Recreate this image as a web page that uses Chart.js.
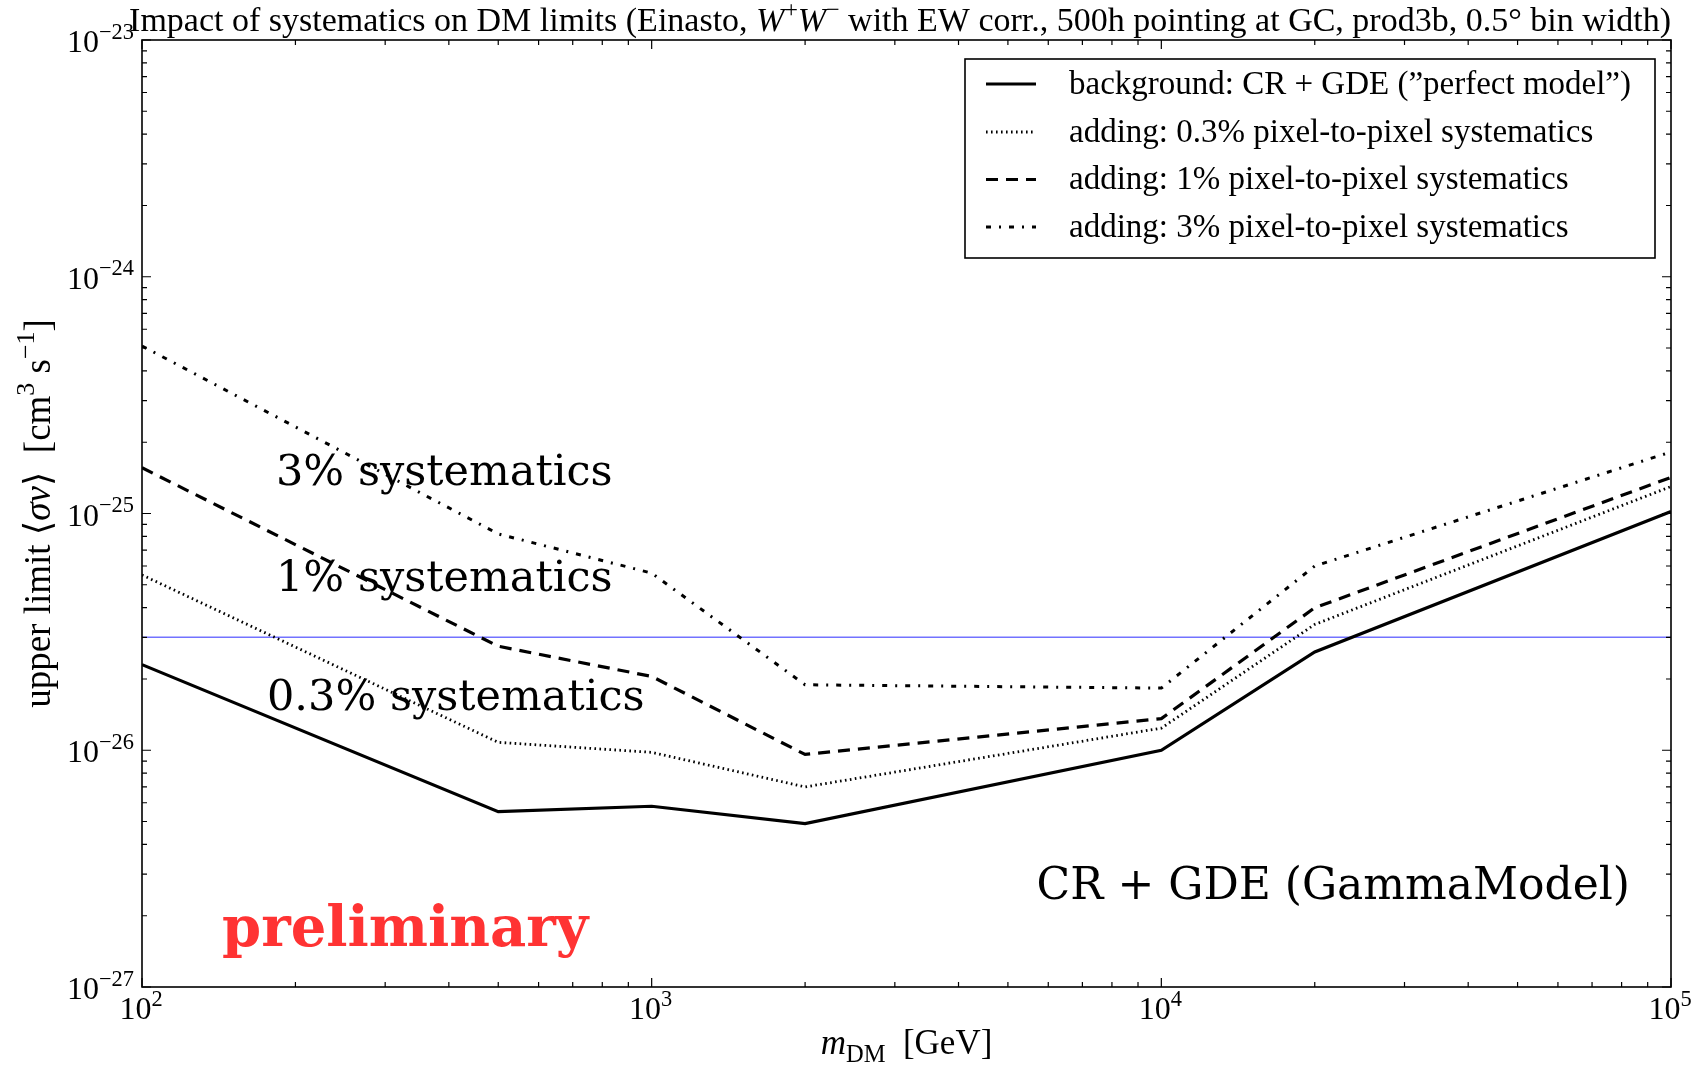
<!DOCTYPE html>
<html>
<head>
<meta charset="utf-8">
<script src="https://cdn.jsdelivr.net/npm/chart.js@4.4.1/dist/chart.umd.min.js"></script>
<style>
  html, body { margin: 0; padding: 0; background: #ffffff; }
  #wrap { width: 1696px; height: 1065px; position: relative; }
</style>
</head>
<body>
<div id="wrap"><canvas id="c" width="1696" height="1065"></canvas></div>
<script>
// Dark-matter mass grid (GeV)
const massGeV = [100, 500, 1000, 2000, 10000, 20000, 100000];

// Upper limits on <sigma v> (cm^3 s^-1)
const limitPerfectModel = [2.30e-26, 5.5e-27, 5.8e-27, 4.9e-27, 1.0e-26, 2.6e-26, 1.02e-25];
const limitSys03 = [5.5e-26, 1.08e-26, 9.8e-27, 7.0e-27, 1.24e-26, 3.4e-26, 1.30e-25];
const limitSys1 = [1.56e-25, 2.75e-26, 2.05e-26, 9.6e-27, 1.36e-26, 4.0e-26, 1.42e-25];
const limitSys3 = [5.1e-25, 8.2e-26, 5.6e-26, 1.89e-26, 1.83e-26, 6.0e-26, 1.82e-25];

// Thermal relic reference cross-section
const thermalRelic = 3e-26;

// Axis ranges and decade tick labels
const xRange = [100, 100000];
const yRange = [1e-27, 1e-23];
const xTickValues = [100, 1000, 10000, 100000];
const xTickExponents = ['2', '3', '4', '5'];
const yTickValues = [1e-27, 1e-26, 1e-25, 1e-24, 1e-23];
const yTickExponents = ['\u221227', '\u221226', '\u221225', '\u221224', '\u221223'];

const seriesLabels = [
  'background: CR + GDE (\u201dperfect model\u201d)',
  'adding: 0.3% pixel-to-pixel systematics',
  'adding: 1% pixel-to-pixel systematics',
  'adding: 3% pixel-to-pixel systematics'
];

const SERIF = '"Liberation Serif", "DejaVu Serif", serif';
const BIGSERIF = '"DejaVu Serif", "Liberation Serif", serif';

function toPoints(values) {
  return massGeV.map((m, i) => ({ x: m, y: values[i] }));
}

// Draw a list of text runs (italic / superscript / subscript pieces)
function runFont(r, size) {
  const s = (r.sup || r.sub) ? size * 0.7 : size;
  return (r.it ? 'italic ' : '') + s + 'px ' + SERIF;
}
function runsWidth(ctx, runs, size) {
  let w = 0;
  for (const r of runs) { ctx.font = runFont(r, size); w += ctx.measureText(r.t).width; }
  return w;
}
function drawRuns(ctx, runs, x, y, size, align) {
  const w = runsWidth(ctx, runs, size);
  let cx = align === 'center' ? x - w / 2 : align === 'right' ? x - w : x;
  ctx.textAlign = 'left';
  ctx.textBaseline = 'alphabetic';
  for (const r of runs) {
    ctx.font = runFont(r, size);
    const dy = r.sup ? -size * 0.42 : r.sub ? size * 0.22 : 0;
    ctx.fillText(r.t, cx, y + dy);
    cx += ctx.measureText(r.t).width;
  }
  return w;
}

const decorations = {
  id: 'decorations',
  afterDraw(chart) {
    const ctx = chart.ctx;
    const { left, right, top, bottom } = chart.chartArea;
    const xs = chart.scales.x, ys = chart.scales.y;
    ctx.save();
    ctx.fillStyle = '#000';
    ctx.strokeStyle = '#000';

    // frame
    ctx.lineWidth = 1.6;
    ctx.strokeRect(left, top, right - left, bottom - top);

    // ticks on all four sides, pointing inward
    ctx.lineWidth = 1.2;
    ctx.beginPath();
    for (let d = xRange[0]; d <= xRange[1]; d *= 10) {
      for (let k = 1; k <= 9; k++) {
        const v = d * k;
        if (v > xRange[1] * 1.0001) break;
        const px = xs.getPixelForValue(v);
        const len = k === 1 ? 9 : 5;
        ctx.moveTo(px, bottom); ctx.lineTo(px, bottom - len);
        ctx.moveTo(px, top); ctx.lineTo(px, top + len);
      }
    }
    for (let d = yRange[0]; d <= yRange[1] * 1.0001; d *= 10) {
      for (let k = 1; k <= 9; k++) {
        const v = d * k;
        if (v > yRange[1] * 1.0001) break;
        const py = ys.getPixelForValue(v);
        const len = k === 1 ? 9 : 5;
        ctx.moveTo(left, py); ctx.lineTo(left + len, py);
        ctx.moveTo(right, py); ctx.lineTo(right - len, py);
      }
    }
    ctx.stroke();

    // decade tick labels
    const tsize = 32;
    xTickValues.forEach((v, i) => {
      const px = xs.getPixelForValue(v);
      drawRuns(ctx, [{ t: '10' }, { t: xTickExponents[i], sup: true }], px - 1, bottom + 32, tsize, 'center');
    });
    yTickValues.forEach((v, i) => {
      const py = ys.getPixelForValue(v);
      drawRuns(ctx, [{ t: '10' }, { t: yTickExponents[i], sup: true }], left - 8, py + 12, tsize, 'right');
    });

    // title
    drawRuns(ctx, [
      { t: 'Impact of systematics on DM limits (Einasto, ' },
      { t: 'W', it: true }, { t: '+', sup: true },
      { t: 'W', it: true }, { t: '\u2212', sup: true },
      { t: ' with EW corr., 500h pointing at GC, prod3b, 0.5\u00b0 bin width)' }
    ], right, 31, 34, 'right');

    // x axis title
    drawRuns(ctx, [
      { t: 'm', it: true }, { t: 'DM', sub: true }, { t: '  [GeV]' }
    ], (left + right) / 2, 1054, 35, 'center');

    // y axis title (rotated)
    ctx.save();
    ctx.translate(50, (top + bottom) / 2);
    ctx.rotate(-Math.PI / 2);
    drawRuns(ctx, [
      { t: 'upper limit \u27e8' }, { t: '\u03c3v', it: true }, { t: '\u27e9  [cm' },
      { t: '3', sup: true }, { t: ' s' }, { t: '\u22121', sup: true }, { t: ']' }
    ], 0, 0, 37, 'center');
    ctx.restore();

    // legend
    const lx0 = 965, ly0 = 59, lx1 = 1655, ly1 = 258;
    ctx.fillStyle = '#fff';
    ctx.fillRect(lx0, ly0, lx1 - lx0, ly1 - ly0);
    ctx.lineWidth = 1.6;
    ctx.strokeStyle = '#000';
    ctx.strokeRect(lx0, ly0, lx1 - lx0, ly1 - ly0);
    const rowY = [84, 132, 179.5, 227];
    seriesLabels.forEach((lab, i) => {
      const ds = chart.data.datasets[i];
      ctx.save();
      ctx.strokeStyle = ds.borderColor;
      ctx.lineWidth = ds.borderWidth;
      ctx.setLineDash(ds.borderDash || []);
      ctx.lineCap = 'butt';
      ctx.beginPath();
      ctx.moveTo(986, rowY[i]); ctx.lineTo(1036, rowY[i]);
      ctx.stroke();
      ctx.restore();
      ctx.fillStyle = '#000';
      ctx.font = '33px ' + SERIF;
      ctx.textAlign = 'left';
      ctx.textBaseline = 'middle';
      ctx.fillText(lab, 1069, rowY[i] + 1);
    });

    // annotations
    ctx.fillStyle = '#000';
    ctx.textBaseline = 'middle';
    ctx.textAlign = 'left';
    ctx.font = '43px ' + BIGSERIF;
    ctx.fillText('3% systematics', 276, 474);
    ctx.fillText('1% systematics', 276, 580);
    ctx.fillText('0.3% systematics', 267, 699);
    ctx.font = '44px ' + BIGSERIF;
    ctx.textAlign = 'right';
    ctx.fillText('CR + GDE (GammaModel)', 1630, 888);
    ctx.fillStyle = '#ff3333';
    ctx.font = 'bold 56px ' + BIGSERIF;
    ctx.textAlign = 'left';
    ctx.fillText('preliminary', 222, 931);

    ctx.restore();
  }
};

new Chart(document.getElementById('c'), {
  type: 'line',
  data: {
    datasets: [
      { label: seriesLabels[0], data: toPoints(limitPerfectModel), borderColor: '#000', borderWidth: 3.2, borderDash: [] },
      { label: seriesLabels[1], data: toPoints(limitSys03), borderColor: '#000', borderWidth: 2.8, borderDash: [1.6, 3.4] },
      { label: seriesLabels[2], data: toPoints(limitSys1), borderColor: '#000', borderWidth: 3.2, borderDash: [12, 8] },
      { label: seriesLabels[3], data: toPoints(limitSys3), borderColor: '#000', borderWidth: 3, borderDash: [5, 8, 2, 8] },
      { label: 'thermal', data: [{ x: xRange[0], y: thermalRelic }, { x: xRange[1], y: thermalRelic }], borderColor: '#7272ff', borderWidth: 1.4, borderDash: [] }
    ]
  },
  options: {
    responsive: false,
    animation: false,
    devicePixelRatio: 1,
    parsing: true,
    elements: { point: { radius: 0 }, line: { tension: 0, borderCapStyle: 'butt', borderJoinStyle: 'miter' } },
    layout: { padding: { top: 40, right: 25, left: 0, bottom: 0 } },
    plugins: { legend: { display: false }, tooltip: { enabled: false }, title: { display: false } },
    scales: {
      x: {
        type: 'logarithmic', min: xRange[0], max: xRange[1],
        ticks: { display: false }, grid: { display: false }, border: { display: false },
        afterFit(s) { s.height = 78; }
      },
      y: {
        type: 'logarithmic', min: yRange[0], max: yRange[1],
        ticks: { display: false }, grid: { display: false }, border: { display: false },
        afterFit(s) { s.width = 142; }
      }
    }
  },
  plugins: [decorations]
});
</script>
</body>
</html>
